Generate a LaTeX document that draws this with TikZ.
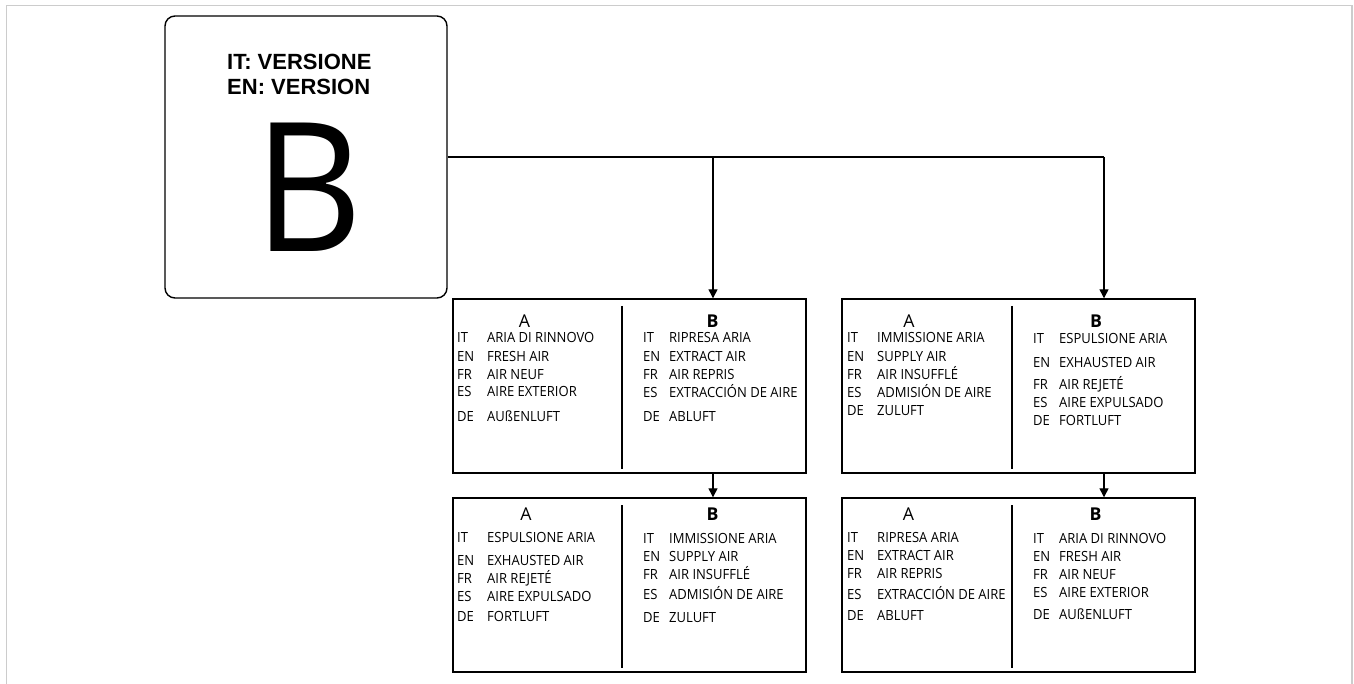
\documentclass[tikz,border=0pt]{standalone}
\usepackage{fontspec}
\setmainfont{Open Sans}
\newfontfamily\titlefont{Liberation Sans}
\newfontfamily\bodyfont{Open Sans}[FakeStretch=0.93]
\usetikzlibrary{arrows.meta}

\newenvironment{airtab}[1]{\begin{tabular}[t]{@{}p{#1}@{}l@{}}}{\end{tabular}}

\begin{document}
\begin{tikzpicture}[x=1pt, y=-1pt,
  pageframe/.style={draw=black!20, line width=1.5pt},
  bigbox/.style={draw, rounded corners=10pt, line width=1.4pt, minimum width=282pt, minimum height=282pt},
  panel/.style={draw, line width=1.4pt, minimum width=353pt, minimum height=174pt, inner sep=0pt},
  divider/.style={line width=2.8pt},
  colhead/.style={font=\fontsize{17.7}{20}\selectfont, anchor=base, inner sep=0pt},
  airlist/.style={font=\bodyfont\fontsize{14}{18}\selectfont, anchor=base west, inner sep=0pt},
  arr/.style={-{Triangle[length=9pt, width=9pt]}, line width=1.3pt},
]
\useasboundingbox (0,0) rectangle (1354,684);
\draw[pageframe] (6.5,684) -- (6.5,5.5) -- (1352,5.5) -- (1352,684);

\node[bigbox] (version) at (306,157) {};
\node[anchor=base west, inner sep=0pt, font=\titlefont\bfseries\fontsize{22}{25}\selectfont] (vertitle) at (227,70)
  {\begin{tabular}[t]{@{}l@{}}IT: VERSIONE\\EN: VERSION\end{tabular}};
\node[anchor=base, inner sep=0pt, font=\bodyfont\fontsize{180}{180}\selectfont] (verletter) at (309,252) {B};

\node[panel] (lhtop) at (629.5,386) {};
\node[panel] (rhtop) at (1018.5,386) {};
\node[panel] (lhbot) at (629.5,585) {};
\node[panel] (rhbot) at (1018.5,585) {};

\draw[divider] (622,306) -- (622,469);
\draw[divider] (1012,306) -- (1012,469);
\draw[divider] (622,505) -- (622,668);
\draw[divider] (1012,505) -- (1012,668);

\node[colhead] (lhtopA) at (524.5,328) {A};
\node[colhead] (lhtopB) at (712.5,328) {\bfseries B};
\node[colhead] (rhtopA) at (909,328) {A};
\node[colhead] (rhtopB) at (1096,328) {\bfseries B};
\node[colhead] (lhbotA) at (526,520) {A};
\node[colhead] (lhbotB) at (712.5,520) {\bfseries B};
\node[colhead] (rhbotA) at (908.5,520) {A};
\node[colhead] (rhbotB) at (1095.5,520) {\bfseries B};

\node[airlist] (lhtopL) at (457,343) {\begin{airtab}{30pt}
  IT & ARIA DI RINNOVO\\ EN & FRESH AIR\\ FR & AIR NEUF\\ ES & AIRE EXTERIOR\\[6pt] DE & AUßENLUFT
\end{airtab}};
\node[airlist] (lhtopR) at (643,343) {\begin{airtab}{26pt}
  IT & RIPRESA ARIA\\ EN & EXTRACT AIR\\ FR & AIR REPRIS\\ ES & EXTRACCIÓN DE AIRE\\[6pt] DE & ABLUFT
\end{airtab}};
\node[airlist] (rhtopL) at (847,343) {\begin{airtab}{30pt}
  IT & IMMISSIONE ARIA\\ EN & SUPPLY AIR\\ FR & AIR INSUFFLÉ\\ ES & ADMISIÓN DE AIRE\\ DE & ZULUFT
\end{airtab}};
\node[airlist] (rhtopR) at (1033,344) {\begin{airtab}{26pt}
  IT & ESPULSIONE ARIA\\[6pt] EN & EXHAUSTED AIR\\[3pt] FR & AIR REJETÉ\\ ES & AIRE EXPULSADO\\ DE & FORTLUFT
\end{airtab}};
\node[airlist] (lhbotL) at (457,542) {\begin{airtab}{30pt}
  IT & ESPULSIONE ARIA\\[5pt] EN & EXHAUSTED AIR\\ FR & AIR REJETÉ\\ ES & AIRE EXPULSADO\\[2pt] DE & FORTLUFT
\end{airtab}};
\node[airlist] (lhbotR) at (643,543) {\begin{airtab}{26pt}
  IT & IMMISSIONE ARIA\\ EN & SUPPLY AIR\\ FR & AIR INSUFFLÉ\\[2pt] ES & ADMISIÓN DE AIRE\\[5pt] DE & ZULUFT
\end{airtab}};
\node[airlist] (rhbotL) at (847,542) {\begin{airtab}{30pt}
  IT & RIPRESA ARIA\\ EN & EXTRACT AIR\\ FR & AIR REPRIS\\[3pt] ES & EXTRACCIÓN DE AIRE\\[3pt] DE & ABLUFT
\end{airtab}};
\node[airlist] (rhbotR) at (1033,543) {\begin{airtab}{26pt}
  IT & ARIA DI RINNOVO\\ EN & FRESH AIR\\ FR & AIR NEUF\\ ES & AIRE EXTERIOR\\[4pt] DE & AUßENLUFT
\end{airtab}};

\coordinate (j1) at (713,157);
\coordinate (j2) at (1104,157);
\draw[line width=1.3pt] (version.east) -- (j2);
\draw[arr] (j1) -- (j1 |- lhtop.north);
\draw[arr] (j2) -- (j2 |- rhtop.north);
\draw[arr] (j1 |- lhtop.south) -- (j1 |- lhbot.north);
\draw[arr] (j2 |- rhtop.south) -- (j2 |- rhbot.north);
\end{tikzpicture}
\end{document}
